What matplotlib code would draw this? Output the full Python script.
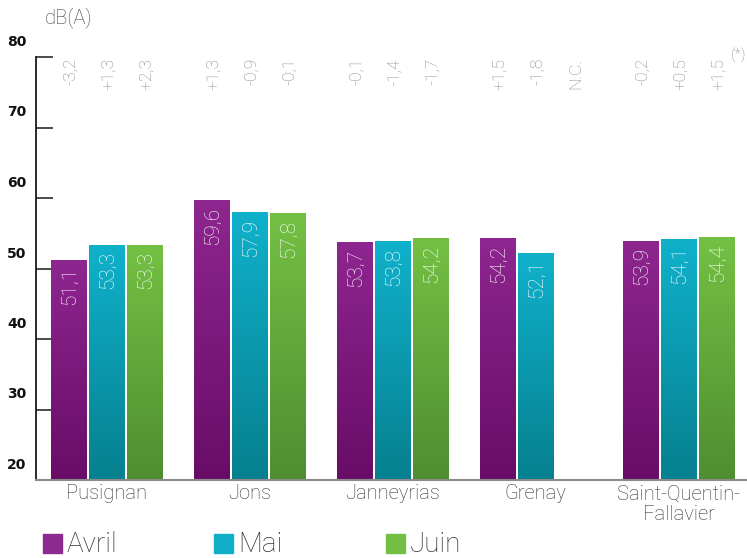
"""Niveaux sonores moyens mensuels (dB(A)) par station – avril à juin."""

import matplotlib

matplotlib.use("Agg")
import matplotlib.pyplot as plt
import numpy as np
from matplotlib.colors import LinearSegmentedColormap
from matplotlib.patches import Rectangle

# --- data -------------------------------------------------------------------
STATIONS = ["Pusignan", "Jons", "Janneyrias", "Grenay", "Saint-Quentin-\nFallavier"]
MONTHS = ["Avril", "Mai", "Juin"]

avril = [51.1, 59.6, 53.7, 54.2, 53.9]
mai = [53.3, 57.9, 53.8, 52.1, 54.1]
juin = [53.3, 57.8, 54.2, np.nan, 54.4]

# variation vs previous period, printed above each bar
delta_avril = ["-3,2", "+1,3", "-0,1", "+1,5", "-0,2"]
delta_mai = ["+1,3", "-0,9", "-1,4", "-1,8", "+0,5"]
delta_juin = ["+2,3", "-0,1", "-1,7", "N.C.", "+1,5"]

Y_TICKS = [20, 30, 40, 50, 60, 70, 80]

# --- style ------------------------------------------------------------------
# (top colour, bottom colour) for the vertical gradient of each series
GRADIENTS = [
    ("#8e2690", "#690c67"),
    ("#10b1cb", "#06808f"),
    ("#74c044", "#4e8e30"),
]
LEGEND_COLORS = ["#8e2a8f", "#0eaec9", "#72bf44"]

FONT = "Roboto"
TEXT_DARK = "#333333"
TEXT_GREY = "#888888"

fig = plt.figure(figsize=(7.47, 5.58), dpi=100)
ax = fig.add_axes([36 / 747, 1 - 480 / 558, 1 - 36 / 747, (480 - 57) / 558])

x = np.arange(len(STATIONS))
bar_w = 0.245
step = 0.266
series = [avril, mai, juin]
deltas = [delta_avril, delta_mai, delta_juin]

ax.set_xlim(-0.493, 4.479)
ax.set_ylim(20, 80)

grad = np.linspace(1, 0, 256).reshape(-1, 1)
for k, (vals, (top, bottom)) in enumerate(zip(series, GRADIENTS)):
    pos = x + (k - 1) * step
    bars = ax.bar(pos, vals, width=bar_w, color="none", edgecolor="none")
    cmap = LinearSegmentedColormap.from_list(f"g{k}", [bottom, top])
    for rect, v in zip(bars, vals):
        if np.isnan(v):
            continue
        x0 = rect.get_x()
        ax.imshow(grad, cmap=cmap, aspect="auto",
                  extent=[x0, x0 + rect.get_width(), 20, rect.get_height()],
                  vmin=0, vmax=1, zorder=2)
        # value inside the bar, reading bottom-to-top
        ax.annotate(f"{v:.1f}".replace(".", ","), xy=(rect.get_x() + bar_w / 2, v),
                    xytext=(1, -6), textcoords="offset pixels",
                    rotation=90, ha="center", va="top", color="white",
                    fontsize=15, family=FONT, fontweight="light", zorder=3)
    for px, d in zip(pos, deltas[k]):
        ax.annotate(d, xy=(px, 80), xytext=(2, -1), textcoords="offset pixels",
                    rotation=90, ha="center", va="top", color=TEXT_GREY,
                    fontsize=12.5, family=FONT, fontweight="light")

ax.annotate("(*)", xy=(1.0, 80), xycoords=("axes fraction", "data"),
            xytext=(-1, 2), textcoords="offset pixels", ha="right", va="center",
            color=TEXT_GREY, fontsize=11, family=FONT, fontweight="light",
            annotation_clip=False)

# axes, ticks
for side in ("top", "right"):
    ax.spines[side].set_visible(False)
ax.spines["left"].set_color("#1a1a1a")
ax.spines["left"].set_linewidth(1.3)
ax.spines["bottom"].set_color("#8a8a8a")
ax.spines["bottom"].set_linewidth(1.5)

ax.set_yticks(Y_TICKS)
ax.set_yticklabels([])
ax.tick_params(axis="y", direction="in", length=12.5, width=1.1, color="#1a1a1a")
for t in Y_TICKS:
    ax.annotate(str(t), xy=(0, t), xycoords=("axes fraction", "data"),
                xytext=(-19, 15), textcoords="offset pixels", ha="center", va="center",
                fontsize=10, fontweight="bold", family="Liberation Sans Narrow",
                color="#111111", annotation_clip=False)

ax.set_xticks(x)
ax.set_xticklabels(STATIONS, fontsize=14.5, family=FONT, fontweight="light",
                   color=TEXT_DARK, linespacing=1.15)
ax.tick_params(axis="x", length=0, pad=3)

fig.text(45 / 747, 1 - 18 / 558, "dB(A)", ha="left", va="center", fontsize=14.5,
         family=FONT, fontweight="light", color="#444444")

# legend, drawn by hand to match the spacing of the original
legend_x = [43, 214, 386]
for name, col, lx in zip(MONTHS, LEGEND_COLORS, legend_x):
    fig.patches.append(Rectangle((lx / 747, 1 - 553 / 558), 19 / 747, 19 / 558,
                                 transform=fig.transFigure, color=col))
    fig.text((lx + 24) / 747, 1 - 545 / 558, name, ha="left", va="center",
             fontsize=20, family=FONT, fontweight="light", color=TEXT_DARK)

fig.savefig("out.png", dpi=100)
